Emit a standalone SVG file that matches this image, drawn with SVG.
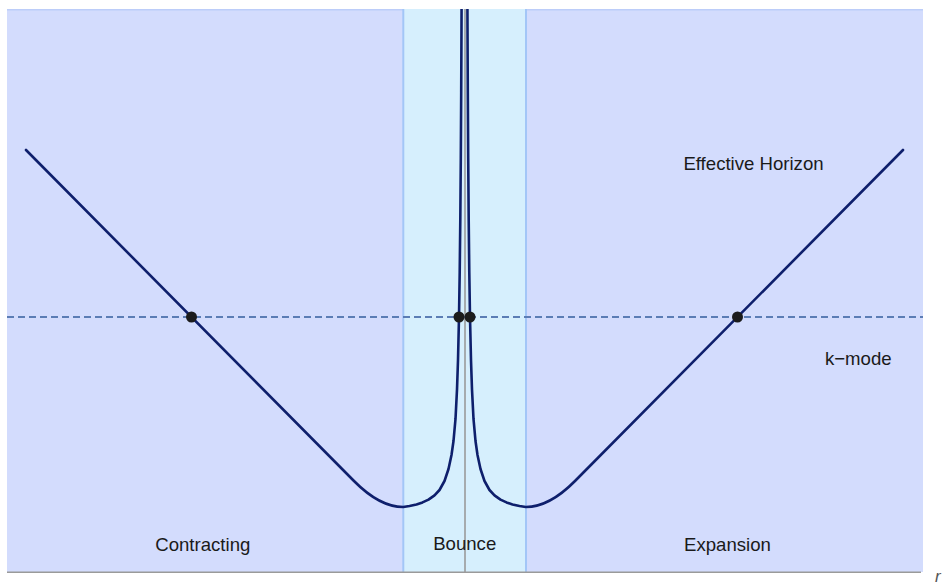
<svg xmlns="http://www.w3.org/2000/svg" width="942" height="585" viewBox="0 0 942 585">
<style>
.lbl{font-family:"Liberation Sans",Arial,sans-serif;font-size:18.6px;fill:#1a1a1a;text-anchor:middle}
.curve{fill:none;stroke:#0e1f6c;stroke-width:2.6;stroke-linejoin:round;stroke-linecap:round}
.dot{fill:#1c1c1c}
.axis{stroke:#9a9a9a;stroke-width:1.6}
.edge{stroke:#a3c6f7;stroke-width:2}
</style>
<defs>
<clipPath id="plot"><rect x="7" y="9" width="916" height="563"/></clipPath>
</defs>
<rect width="942" height="585" fill="#ffffff"/>
<g id="regions">
<rect id="bg" x="7" y="9" width="916" height="563" fill="#d3dcfd"/>
<line x1="7" y1="9.8" x2="923" y2="9.8" stroke="#bccdf9" stroke-width="1.6"/>
<rect id="bounce-region" x="403.3" y="9" width="122.7" height="563" fill="#d6effd"/>
<line class="edge" x1="403.3" y1="9" x2="403.3" y2="572"/>
<line class="edge" x1="526" y1="9" x2="526" y2="572"/>
</g>
<g id="axes">
<line class="axis" x1="465" y1="9" x2="465" y2="572"/>
<line class="axis" x1="7" y1="572.3" x2="921" y2="572.3"/>
<text x="935" y="582" font-family="Liberation Sans,Arial,sans-serif" font-size="17" font-style="italic" fill="#555">r</text>
</g>
<g id="connectors" clip-path="url(#plot)">
<line id="k-mode-line" x1="7" y1="317" x2="923" y2="317" stroke="#5b7db5" stroke-width="2.2" stroke-dasharray="7 4"/>
<path id="horizon-left" class="curve" d="M26,150 L354,481 C370,497.2 387,507 403.2,507 L409.5,506 L416.5,504.4 L422.5,502.4 L428.5,499.6 L434.5,495.4 L439.5,490 L444.5,481 L448.5,469 L451.5,455 L453.5,441 L455.5,418.95 L457,389.6 L458,360.2 L459,317 L459.7,272.8 L460.3,219.6 L460.8,158.3 L461.2,92.1 L461.5,27.4 L461.7,-25.4"/>
<path id="horizon-right" class="curve" d="M903,150 L575,481 C559,497.2 542,507 525.8,507 L519.5,506 L512.5,504.4 L506.5,502.4 L500.5,499.6 L494.5,495.4 L489.5,490 L484.5,481 L480.5,469 L477.5,455 L475.5,441 L473.5,418.95 L472,389.6 L471,360.2 L470,317 L469.3,272.8 L468.7,219.6 L468.2,158.3 L467.8,92.1 L467.5,27.4 L467.3,-25.4"/>
</g>
<g id="crossings">
<circle class="dot" cx="191.5" cy="317" r="5.5"/>
<circle class="dot" cx="459" cy="317" r="5.5"/>
<circle class="dot" cx="470" cy="317" r="5.5"/>
<circle class="dot" cx="737.5" cy="317" r="5.5"/>
</g>
<g id="labels">
<text id="effective-horizon" class="lbl" x="753.5" y="170">Effective Horizon</text>
<text id="k-mode" class="lbl" x="858.3" y="365">k−mode</text>
<text id="contracting" class="lbl" x="202.8" y="551">Contracting</text>
<text id="bounce" class="lbl" x="464.7" y="550">Bounce</text>
<text id="expansion" class="lbl" x="727.5" y="551">Expansion</text>
</g>
</svg>
